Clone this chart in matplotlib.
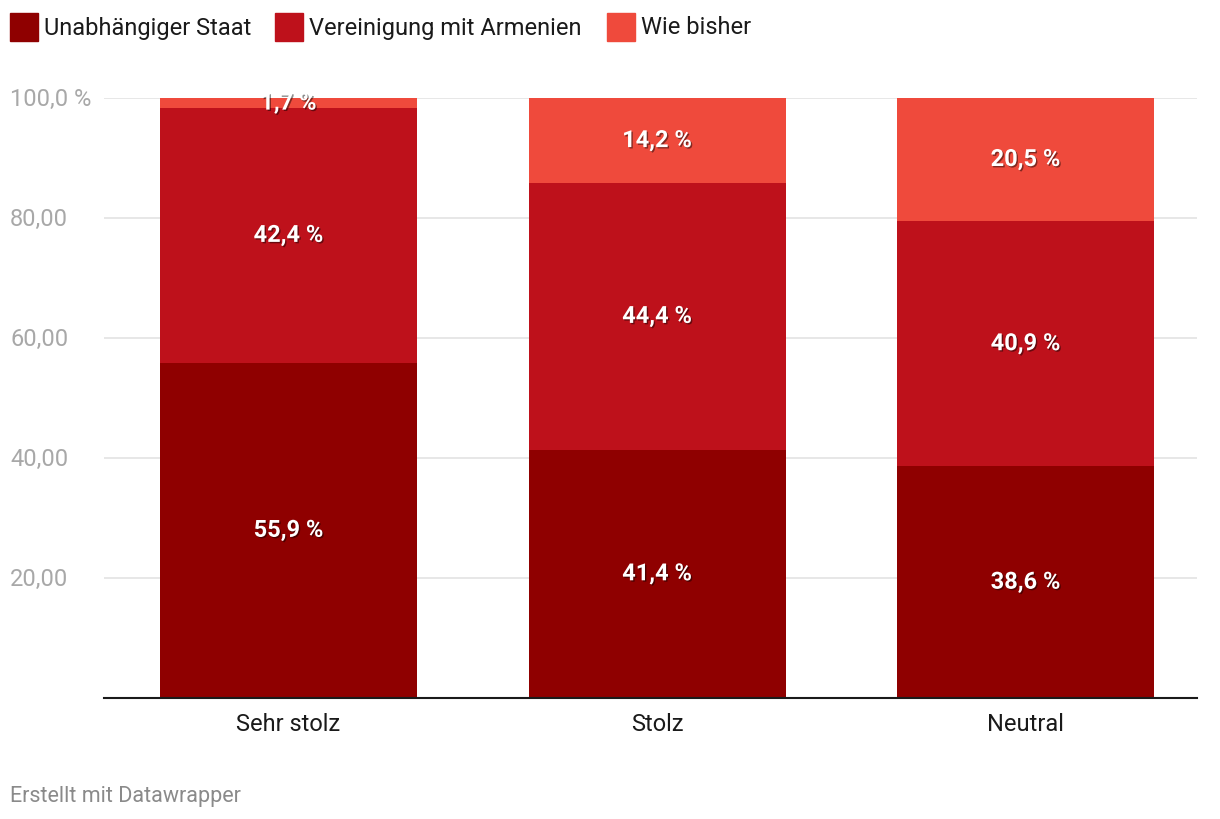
import matplotlib
matplotlib.use("Agg")
import matplotlib.pyplot as plt
import matplotlib.patheffects as pe
from matplotlib.patches import Rectangle
import numpy as np

plt.rcParams['font.family'] = ['Roboto', 'DejaVu Sans']

categories = ["Sehr stolz", "Stolz", "Neutral"]
series_names = ["Unabhängiger Staat", "Vereinigung mit Armenien", "Wie bisher"]
unabhaengig = [55.9, 41.4, 38.6]
vereinigung = [42.4, 44.4, 40.9]
wie_bisher = [1.7, 14.2, 20.5]
colors = ["#8f0000", "#be111b", "#ef4a3c"]
yticks = [20, 40, 60, 80, 100]
ytick_labels = ["20,00", "40,00", "60,00", "80,00", "100,0 %"]

W, H = 1220, 820
fig = plt.figure(figsize=(W / 100, H / 100), dpi=100)
ax = fig.add_axes([104 / W, 1 - 699 / H, (1197 - 104) / W, 600 / H])

x = np.arange(len(categories))
bottom = np.zeros(len(categories))
for vals, col in zip([unabhaengig, vereinigung, wie_bisher], colors):
    vals = np.array(vals)
    ax.bar(x, vals, bottom=bottom, width=0.697, color=col, zorder=2)
    for xi, b, v in zip(x, bottom, vals):
        ax.text(xi, b + v / 2, f"{v:.1f} %".replace(".", ","), ha="center", va="center",
                color="white", fontsize=17, fontweight="bold", zorder=5,
                path_effects=[pe.SimplePatchShadow(offset=(1, -1), alpha=0.45, shadow_rgbFace="black"),
                              pe.Normal()])
    bottom += vals

ax.set_xlim(-0.5007, 2.465)
ax.set_ylim(0, 100)
ax.set_yticks(yticks)
ax.set_yticklabels(ytick_labels)
ax.grid(axis="y", color="#e3e3e3", linewidth=1.2, zorder=0)
ax.set_axisbelow(True)
for s in ["top", "right", "left"]:
    ax.spines[s].set_visible(False)
ax.spines["bottom"].set_color("#1a1a1a")
ax.spines["bottom"].set_linewidth(1.5)
ax.spines["bottom"].set_zorder(4)
ax.tick_params(axis="y", length=0, labelsize=17, labelcolor="#a8a8a8", pad=94 * 0.72)
for lbl in ax.get_yticklabels():
    lbl.set_horizontalalignment("left")
    lbl.set_verticalalignment("center")
ax.set_xticks(x)
ax.set_xticklabels(categories)
ax.tick_params(axis="x", length=0, pad=10, labelsize=17, labelcolor="#1a1a1a")

# legend
leg_x = [10, 275, 607]
for lx, name, col in zip(leg_x, series_names, colors):
    fig.patches.append(Rectangle((lx / W, 1 - 42 / H), 28 / W, 28 / H, transform=fig.transFigure,
                                 color=col, figure=fig))
    fig.text((lx + 34) / W, 1 - 28 / H, name, ha="left", va="center", fontsize=17, color="#1a1a1a")

fig.text(10 / W, 1 - 797 / H, "Erstellt mit Datawrapper", ha="left", va="center", fontsize=15.5, color="#8a8a8a")

fig.savefig("out.png", dpi=100)
